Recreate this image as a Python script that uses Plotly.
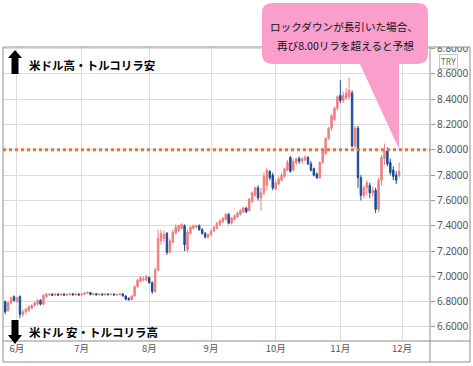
import pandas as pd
import plotly.graph_objects as go

# ---------------- data (USD/TRY daily candles) ----------------
dates = pd.bdate_range("2020-05-26", "2020-11-30")

opens = [
    # May 26-29
    6.80, 6.73, 6.79, 6.84,
    # June
    6.80, 6.84, 6.70, 6.72, 6.73, 6.75, 6.77, 6.78, 6.81, 6.78, 6.84,
    6.855, 6.86, 6.85, 6.86, 6.853, 6.86, 6.852, 6.856, 6.862, 6.854, 6.86,
    # July
    6.853, 6.86, 6.868, 6.872, 6.856, 6.862, 6.854, 6.86, 6.853, 6.86, 6.855, 6.86,
    6.853, 6.858, 6.862, 6.845, 6.825, 6.815, 6.845, 6.92, 6.96, 6.97, 6.97,
    # August
    6.99, 6.95, 6.88, 7.05, 7.28, 7.30, 7.34, 7.19, 7.27, 7.34, 7.36, 7.38, 7.40,
    7.21, 7.34, 7.38, 7.39, 7.40, 7.37, 7.34, 7.31,
    # September
    7.33, 7.36, 7.38, 7.41, 7.43, 7.45, 7.49, 7.42, 7.45, 7.47, 7.49, 7.51, 7.54,
    7.52, 7.59, 7.64, 7.70, 7.62, 7.66, 7.72, 7.83, 7.80,
    # October
    7.69, 7.73, 7.76, 7.79, 7.84, 7.94, 7.84, 7.90, 7.93, 7.91, 7.92, 7.94, 7.89,
    7.85, 7.81, 7.78, 7.90, 7.97, 8.09, 8.17, 8.24, 8.33,
    # November
    8.43, 8.39, 8.41, 8.42, 8.45, 8.03, 8.17, 7.78, 7.64, 7.70, 7.72, 7.66, 7.68,
    7.53, 7.76, 7.93, 7.99, 7.90, 7.84, 7.80, 7.80,
]
highs = [
    6.81, 6.80, 6.84, 6.85,
    6.84, 6.85, 6.74, 6.75, 6.77, 6.78, 6.80, 6.82, 6.82, 6.86, 6.87,
    6.865, 6.865, 6.865, 6.865, 6.865, 6.865, 6.862, 6.865, 6.866, 6.865, 6.865,
    6.865, 6.872, 6.88, 6.876, 6.866, 6.866, 6.865, 6.866, 6.865, 6.866, 6.864, 6.865,
    6.862, 6.866, 6.865, 6.85, 6.835, 6.85, 6.93, 6.98, 7.00, 7.00, 7.01,
    7.00, 6.96, 7.07, 7.37, 7.37, 7.36, 7.35, 7.30, 7.37, 7.41, 7.41, 7.42, 7.41,
    7.37, 7.40, 7.41, 7.41, 7.41, 7.38, 7.35, 7.34,
    7.37, 7.40, 7.43, 7.45, 7.47, 7.50, 7.50, 7.47, 7.49, 7.51, 7.53, 7.55, 7.55,
    7.62, 7.67, 7.71, 7.72, 7.70, 7.82, 7.86, 7.84, 7.82,
    7.76, 7.79, 7.82, 7.86, 7.92, 7.95, 7.93, 7.94, 7.95, 7.94, 7.96, 7.95, 7.91,
    7.86, 7.82, 7.91, 8.00, 8.10, 8.18, 8.28, 8.34, 8.43,
    8.55, 8.46, 8.49, 8.57, 8.47, 8.19, 8.19, 7.80, 7.72, 7.76, 7.74, 7.71, 7.70,
    7.78, 7.96, 8.05, 8.02, 7.93, 7.87, 7.83, 7.90,
]
lows = [
    6.70, 6.72, 6.78, 6.80,
    6.79, 6.67, 6.68, 6.70, 6.72, 6.74, 6.76, 6.77, 6.77, 6.77, 6.83,
    6.845, 6.845, 6.845, 6.845, 6.845, 6.845, 6.845, 6.848, 6.848, 6.848, 6.848,
    6.848, 6.852, 6.86, 6.85, 6.85, 6.85, 6.85, 6.85, 6.848, 6.85, 6.85, 6.85,
    6.848, 6.85, 6.84, 6.81, 6.81, 6.81, 6.84, 6.91, 6.95, 6.96, 6.96,
    6.94, 6.86, 6.87, 7.04, 7.25, 7.27, 7.17, 7.18, 7.26, 7.33, 7.35, 7.37, 7.20,
    7.19, 7.33, 7.37, 7.38, 7.36, 7.33, 7.30, 7.30,
    7.32, 7.35, 7.37, 7.40, 7.42, 7.44, 7.41, 7.41, 7.44, 7.46, 7.48, 7.50, 7.50,
    7.51, 7.58, 7.63, 7.60, 7.52, 7.64, 7.68, 7.76, 7.68,
    7.68, 7.72, 7.75, 7.78, 7.83, 7.82, 7.83, 7.88, 7.89, 7.89, 7.91, 7.88, 7.83,
    7.79, 7.77, 7.77, 7.89, 7.96, 8.08, 8.15, 8.23, 8.31,
    8.37, 8.37, 8.40, 8.40, 8.02, 8.01, 7.70, 7.60, 7.62, 7.64, 7.62, 7.63, 7.50,
    7.51, 7.72, 7.88, 7.87, 7.80, 7.76, 7.73, 7.78,
]
closes = [
    6.72, 6.79, 6.83, 6.81,
    6.83, 6.70, 6.72, 6.74, 6.76, 6.77, 6.79, 6.81, 6.78, 6.85, 6.86,
    6.86, 6.85, 6.86, 6.853, 6.86, 6.852, 6.858, 6.862, 6.854, 6.86, 6.853,
    6.86, 6.868, 6.874, 6.856, 6.862, 6.854, 6.86, 6.853, 6.86, 6.855, 6.86, 6.853,
    6.858, 6.862, 6.845, 6.82, 6.815, 6.845, 6.92, 6.97, 6.99, 6.98, 7.00,
    6.95, 6.88, 7.05, 7.30, 7.34, 7.33, 7.19, 7.28, 7.35, 7.39, 7.40, 7.41, 7.25,
    7.35, 7.39, 7.40, 7.40, 7.37, 7.34, 7.31, 7.33,
    7.36, 7.39, 7.42, 7.44, 7.46, 7.49, 7.42, 7.46, 7.48, 7.50, 7.52, 7.54, 7.51,
    7.61, 7.66, 7.70, 7.62, 7.66, 7.79, 7.84, 7.78, 7.70,
    7.74, 7.77, 7.80, 7.85, 7.90, 7.83, 7.91, 7.93, 7.91, 7.93, 7.94, 7.89, 7.84,
    7.80, 7.78, 7.90, 7.99, 8.09, 8.17, 8.27, 8.33, 8.42,
    8.39, 8.43, 8.45, 8.47, 8.03, 8.17, 7.78, 7.64, 7.70, 7.74, 7.66, 7.68, 7.53,
    7.76, 7.94, 7.99, 7.89, 7.82, 7.79, 7.76, 7.83,
]

month_ticks = ["2020-06-01", "2020-07-01", "2020-08-03", "2020-09-01",
               "2020-10-01", "2020-11-02", "2020-12-01"]
month_labels = ["6月", "7月", "8月", "9月", "10月", "11月", "12月"]
y_ticks = [6.6, 6.8, 7.0, 7.2, 7.4, 7.6, 7.8, 8.0, 8.2, 8.4, 8.6, 8.8]
y_labels = ["6.6000", "6.8000", "7.0000", "7.2000", "7.4000", "7.6000",
            "7.8000", "8.0000", "8.2000", "8.4000", "8.6000", "8.8000"]
forecast_level = 8.0

assert len(dates) == len(opens) == len(highs) == len(lows) == len(closes)

# ---------------- layout helpers ----------------
W, H = 473, 366
ML, MR, MT, MB = 3, 43, 47, 25
PW = W - ML - MR
PH = H - MT - MB


def px(x):
    return (x - ML) / PW


def py(y):
    return (H - MB - y) / PH


UP = "#F07E7E"
DOWN = "#1B4B95"
GRID = "#DCDCDC"
FRAME = "#8E8E8E"
PINK = "#FA9FCC"

fig = go.Figure()
fig.add_trace(go.Candlestick(
    x=dates, open=opens, high=highs, low=lows, close=closes,
    increasing=dict(line=dict(color=UP, width=1), fillcolor=UP),
    decreasing=dict(line=dict(color=DOWN, width=1), fillcolor=DOWN),
    whiskerwidth=0, showlegend=False, hoverinfo="skip",
))

shapes = []
# orange forecast line at 8.00
shapes.append(dict(type="line", xref="paper", x0=0, x1=1, yref="y",
                   y0=forecast_level, y1=forecast_level,
                   line=dict(color="#E8772A", width=3, dash="dot"), layer="above"))
# white mask above the frame (clips the top half of the 8.8000 label)
shapes.append(dict(type="rect", xref="paper", yref="paper",
                   x0=px(430), x1=px(473), y0=py(47), y1=py(0),
                   fillcolor="white", line=dict(width=0), layer="above"))
# frame
shapes.append(dict(type="rect", xref="paper", yref="paper",
                   x0=px(3), x1=px(470), y0=py(362), y1=py(47),
                   line=dict(color=FRAME, width=1), layer="above"))
shapes.append(dict(type="line", xref="paper", yref="paper",
                   x0=px(430), x1=px(430), y0=py(362), y1=py(47),
                   line=dict(color=FRAME, width=1), layer="above"))
shapes.append(dict(type="line", xref="paper", yref="paper",
                   x0=px(3), x1=px(470), y0=py(341), y1=py(341),
                   line=dict(color=FRAME, width=1), layer="above"))


def path(points_cmds):
    out = []
    for cmd, pts in points_cmds:
        if cmd == "Z":
            out.append("Z")
        else:
            out.append(cmd + " " + " ".join(f"{px(a):.5f},{py(b):.5f}" for a, b in pts))
    return " ".join(out)


# callout bubble
bx0, bx1, by0, by1, r = 262, 428, 3, 64, 10
callout = path([
    ("M", [(bx0 + r, by0)]), ("L", [(bx1 - r, by0)]), ("Q", [(bx1, by0), (bx1, by0 + r)]),
    ("L", [(bx1, by1 - r)]), ("Q", [(bx1, by1), (bx1 - r, by1)]),
    ("L", [(399, by1)]), ("L", [(399, 149)]), ("L", [(360, by1)]),
    ("L", [(bx0 + r, by1)]), ("Q", [(bx0, by1), (bx0, by1 - r)]),
    ("L", [(bx0, by0 + r)]), ("Q", [(bx0, by0), (bx0 + r, by0)]), ("Z", None),
])
shapes.append(dict(type="path", xref="paper", yref="paper", path=callout,
                   fillcolor=PINK, line=dict(width=0), layer="above"))

# up / down arrows
up_arrow = path([("M", [(15, 50)]), ("L", [(22, 58)]), ("L", [(18.5, 58)]), ("L", [(18.5, 74)]),
                 ("L", [(11.5, 74)]), ("L", [(11.5, 58)]), ("L", [(8, 58)]), ("Z", None)])
down_arrow = path([("M", [(15, 344)]), ("L", [(22, 335)]), ("L", [(18.5, 335)]), ("L", [(18.5, 320)]),
                   ("L", [(11.5, 320)]), ("L", [(11.5, 335)]), ("L", [(8, 335)]), ("Z", None)])
for p in (up_arrow, down_arrow):
    shapes.append(dict(type="path", xref="paper", yref="paper", path=p,
                       fillcolor="black", line=dict(width=0), layer="above"))

JP = "Noto Sans CJK JP"
annotations = [
    dict(text="ロックダウンが長引いた場合、", x=px(344), y=py(26)),
    dict(text="再び8.00リラを超えると予想", x=px(345), y=py(45)),
]
for a in annotations:
    a.update(xref="paper", yref="paper", showarrow=False, xanchor="center", yanchor="middle",
             font=dict(family=JP, size=10.6, color="#111"))
annotations += [
    dict(text="<b>米ドル高・トルコリラ安</b>", x=px(27), y=py(65), xref="paper", yref="paper",
         showarrow=False, xanchor="left", yanchor="middle",
         font=dict(family=JP, size=11.5, color="#000")),
    dict(text="<b>米ドル 安・トルコリラ高</b>", x=px(27), y=py(332), xref="paper", yref="paper",
         showarrow=False, xanchor="left", yanchor="middle",
         font=dict(family=JP, size=11.5, color="#000")),
    dict(text="TRY", x=px(448), y=py(61), xref="paper", yref="paper",
         showarrow=False, xanchor="center", yanchor="middle",
         font=dict(family="Noto Sans", size=8.5, color="#666"),
         bordercolor="#C8C8C8", borderwidth=1, borderpad=1, bgcolor="white"),
]

fig.update_layout(
    width=W, height=H,
    margin=dict(l=ML, r=MR, t=MT, b=MB),
    paper_bgcolor="white", plot_bgcolor="white",
    showlegend=False,
    shapes=shapes, annotations=annotations,
    xaxis=dict(
        type="date",
        range=["2020-05-25 05:45", "2020-12-14 12:00"],
        rangebreaks=[dict(bounds=["sat", "mon"])],
        rangeslider=dict(visible=False),
        tickmode="array", tickvals=month_ticks, ticktext=month_labels,
        showgrid=True, gridcolor=GRID, gridwidth=1,
        ticks="", showline=False, zeroline=False,
        tickfont=dict(family=JP, size=9.5, color="#555"),
        fixedrange=True,
    ),
    yaxis=dict(
        side="right",
        range=[6.489, 8.813],
        tickmode="array", tickvals=y_ticks, ticktext=y_labels,
        showgrid=True, gridcolor=GRID, gridwidth=1,
        ticks="outside", ticklen=4, tickcolor="#999",
        showline=False, zeroline=False,
        tickfont=dict(family="Noto Sans", size=10, color="#555"),
        fixedrange=True,
    ),
)

fig.write_html("out.html", config={"displayModeBar": False},
               post_script="document.body.style.margin='0';document.body.style.overflow='hidden';")
